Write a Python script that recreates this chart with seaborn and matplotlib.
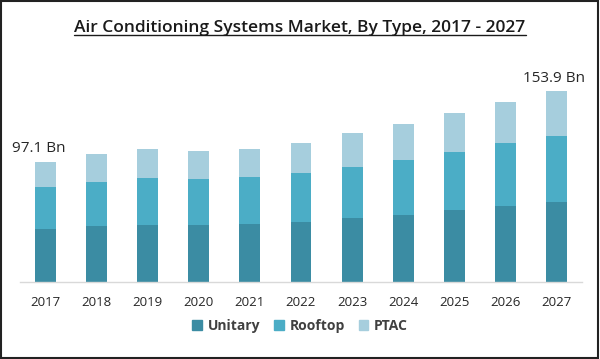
import pandas as pd
import numpy as np
import matplotlib
matplotlib.use("Agg")
import matplotlib.pyplot as plt
import seaborn as sns
from matplotlib.patches import Rectangle
from matplotlib.lines import Line2D


# ---------------------------------
# DATA (USD Bn)
# ---------------------------------

years = ["2017", "2018", "2019", "2020", "2021", "2022",
         "2023", "2024", "2025", "2026", "2027"]

unitary = [42.6, 44.8, 46.4, 45.6, 46.8, 48.1, 51.4, 54.2, 58.0, 61.5, 64.8]
rooftop = [33.8, 35.6, 37.2, 37.2, 37.8, 39.6, 41.3, 44.5, 46.9, 50.7, 53.4]
ptac = [20.7, 22.7, 23.5, 23.1, 23.1, 24.8, 27.2, 28.6, 31.6, 32.8, 35.7]

segments = ["Unitary", "Rooftop", "PTAC"]
colors = ["#3B8CA3", "#4BADC6", "#A6CEDD"]

label_first = "97.1 Bn"
label_last = "153.9 Bn"


def main():

    df = pd.DataFrame({"year": years, "Unitary": unitary,
                       "Rooftop": rooftop, "PTAC": ptac})
    df["lvl1"] = df["Unitary"]
    df["lvl2"] = df["Unitary"] + df["Rooftop"]
    df["lvl3"] = df["lvl2"] + df["PTAC"]

    sns.set_style("white")
    plt.rcParams["font.family"] = ["Open Sans", "DejaVu Sans"]

    fig = plt.figure(figsize=(6, 3.59), dpi=100)
    ax = fig.add_axes([20 / 600, 1 - 282 / 359, 562 / 600, 222 / 359])

    # stacked bars: draw cumulative heights from the top down
    for col, color in zip(["lvl3", "lvl2", "lvl1"], colors[::-1]):
        sns.barplot(data=df, x="year", y=col, color=color, width=0.41,
                    saturation=1, ax=ax, linewidth=0)

    ax.set_xlim(-0.5, 10.5)
    ax.set_ylim(0, 222 * 0.807)
    ax.set_xlabel("")
    ax.set_ylabel("")
    ax.set_yticks([])
    for side in ["top", "left", "right"]:
        ax.spines[side].set_visible(False)
    ax.spines["bottom"].set_color("#D9D9D9")
    ax.spines["bottom"].set_linewidth(1)
    ax.tick_params(axis="x", length=0, pad=10, labelsize=9.5, colors="#262626")

    # totals for first and last year
    ax.annotate(label_first, (0, df["lvl3"].iloc[0]), xytext=(-5, 4),
                textcoords="offset points", ha="center", va="bottom",
                fontsize=11, color="#262626")
    ax.annotate(label_last, (10, df["lvl3"].iloc[-1]), xytext=(-2, 4),
                textcoords="offset points", ha="center", va="bottom",
                fontsize=11, color="#262626")

    handles = [Rectangle((0, 0), 1, 1, color=c) for c in colors]
    leg = fig.legend(handles, segments, loc="center", ncol=3,
                     bbox_to_anchor=(0.5, 1 - 326 / 359), frameon=False,
                     handlelength=0.7, handleheight=0.7, handletextpad=0.4,
                     columnspacing=1.0, prop={"size": 10, "weight": "bold"})
    for t in leg.get_texts():
        t.set_color("#404040")

    title = fig.text(0.5, 1 - 28 / 359,
                     "Air Conditioning Systems Market, By Type, 2017 - 2027",
                     ha="center", va="center", fontsize=12.5,
                     fontweight="semibold", color="#1a1a1a")

    # underline the title
    fig.canvas.draw()
    bb = title.get_window_extent().transformed(fig.transFigure.inverted())
    fig.add_artist(Line2D([bb.x0, bb.x1], [bb.y0 + 0.004, bb.y0 + 0.004],
                          transform=fig.transFigure, color="#1a1a1a",
                          linewidth=1))

    # frame around the image
    fig.add_artist(Rectangle((0.002, 0.003), 0.994, 0.994,
                             transform=fig.transFigure, fill=False,
                             edgecolor="#222222", linewidth=1.5))

    fig.savefig("out.png", dpi=100)


if __name__ == "__main__":
    main()
